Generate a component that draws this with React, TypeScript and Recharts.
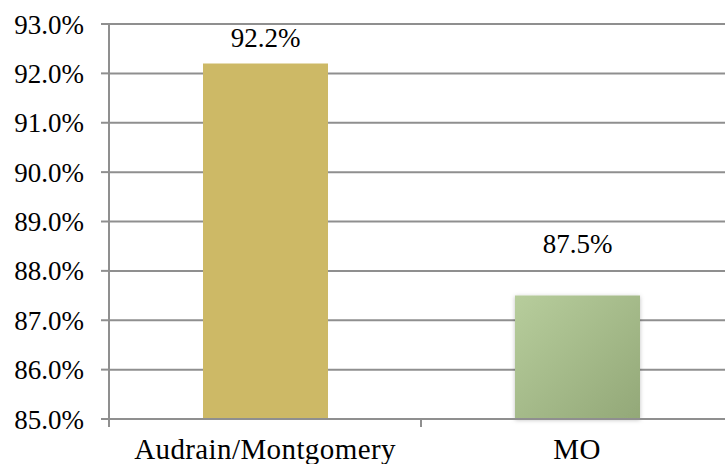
import React from "react";
import { BarChart, Bar, XAxis, YAxis, CartesianGrid, Cell, LabelList } from "recharts";

const categories = ["Audrain/Montgomery", "MO"];
const values = [92.2, 87.5];
const yTicks = [85, 86, 87, 88, 89, 90, 91, 92, 93];
const fills = ["#CDB966", "url(#greenGrad)"];

const data = categories.map((name, i) => ({ name, value: values[i] }));

const CHART_W = 760;
const CHART_H = 464;
const MARGIN = { top: 24, right: 27, left: 0, bottom: 0 };
const Y_AXIS_W = 109;
const PLOT_W = CHART_W - MARGIN.right - Y_AXIS_W;
const HALF_BAND = PLOT_W / categories.length / 2;
const GRID = "#8f8f8f";
const SERIF = "'Liberation Serif', 'Times New Roman', serif";

const XTick = (props: any) => {
  const { x, y, payload } = props;
  const axisY = y - 8;
  return (
    <g>
      <line x1={x - HALF_BAND} x2={x - HALF_BAND} y1={axisY} y2={axisY + 8} stroke={GRID} strokeWidth={2} />
      <line x1={x + HALF_BAND} x2={x + HALF_BAND} y1={axisY} y2={axisY + 8} stroke={GRID} strokeWidth={2} />
      <text x={x} y={axisY + 40} textAnchor="middle" fill="#000" fontFamily={SERIF} fontSize={29} letterSpacing={0.4}>
        {payload.value}
      </text>
    </g>
  );
};

const ValueLabel = (props: any) => {
  const { x, y, width, value } = props;
  const baseline = Math.max(y - 43, MARGIN.top + 23);
  return (
    <text x={x + width / 2} y={baseline} textAnchor="middle" fill="#000" fontFamily={SERIF} fontSize={27}>
      {Number(value).toFixed(1) + "%"}
    </text>
  );
};

export default function App() {
  return (
    <div style={{ position: "absolute", left: 0, top: 0, width: 725, height: 464, overflow: "hidden", background: "#fff" }}>
      <BarChart width={CHART_W} height={CHART_H} data={data} margin={MARGIN}>
        <defs>
          <linearGradient id="greenGrad" x1="0" y1="0" x2="1" y2="1">
            <stop offset="0%" stopColor="#B7CD9C" />
            <stop offset="100%" stopColor="#93A878" />
          </linearGradient>
          <filter id="shadow" x="-10%" y="-10%" width="120%" height="120%">
            <feDropShadow dx="0" dy="1" stdDeviation="2" floodColor="#000" floodOpacity="0.25" />
          </filter>
        </defs>
        <CartesianGrid vertical={false} stroke={GRID} strokeWidth={2} />
        <XAxis
          dataKey="name"
          axisLine={{ stroke: GRID, strokeWidth: 2 }}
          tickLine={false}
          tick={<XTick />}
          tickSize={8}
          tickMargin={0}
          height={45}
          interval={0}
        />
        <YAxis
          domain={[85, 93]}
          ticks={yTicks}
          width={Y_AXIS_W}
          axisLine={{ stroke: GRID, strokeWidth: 2 }}
          tickLine={{ stroke: GRID, strokeWidth: 2 }}
          tickSize={8}
          tickMargin={17}
          tickFormatter={(v: number) => v.toFixed(1) + "%"}
          tick={{ fill: "#000", fontFamily: SERIF, fontSize: 27 }}
          interval={0}
        />
        <Bar dataKey="value" barSize={125} isAnimationActive={false}>
          {data.map((d, i) => (
            <Cell key={d.name} fill={fills[i]} filter={i === 1 ? "url(#shadow)" : undefined} />
          ))}
          <LabelList dataKey="value" content={<ValueLabel />} />
        </Bar>
      </BarChart>
    </div>
  );
}
